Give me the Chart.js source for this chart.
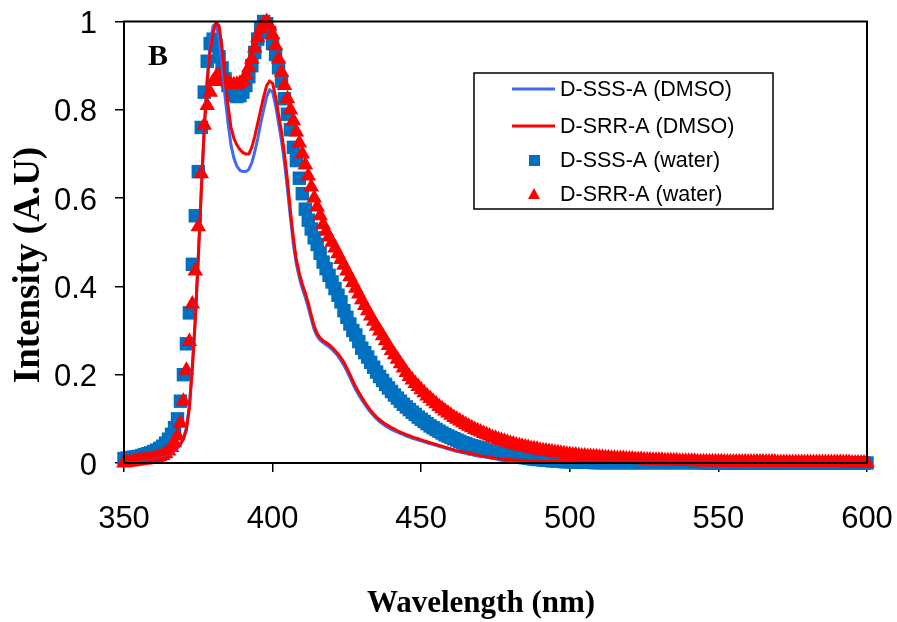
<!DOCTYPE html>
<html>
<head>
<meta charset="utf-8">
<script src="https://cdn.jsdelivr.net/npm/chart.js@4.4.1/dist/chart.umd.min.js"></script>
<style>
  html, body { margin: 0; padding: 0; background: #fff; }
  #wrap { width: 897px; height: 622px; }
</style>
</head>
<body>
<div id="wrap"><canvas id="spectra" width="897" height="622"></canvas></div>
<script>
// wavelength grid of the spectra, 1 nm steps from 350 to 600 nm
const startNm = 350;
const endNm = 600;

const xTickLabels = ['350', '400', '450', '500', '550', '600'];
const yTickLabels = ['0', '0.2', '0.4', '0.6', '0.8', '1'];

const seriesNames = ['D-SSS-A (DMSO)', 'D-SRR-A (DMSO)', 'D-SSS-A (water)', 'D-SRR-A (water)'];

// D-SSS-A in DMSO (blue line)
const sssDmso = [
  0.005, 0.005, 0.006, 0.006, 0.007, 0.007, 0.008, 0.009, 0.010, 0.011,
  0.012, 0.013, 0.015, 0.017, 0.019, 0.021, 0.024, 0.028, 0.034, 0.042,
  0.055, 0.080, 0.130, 0.220, 0.330, 0.470, 0.620, 0.760, 0.870, 0.950,
  0.990, 0.995, 0.960, 0.900, 0.830, 0.770, 0.720, 0.690, 0.672, 0.663,
  0.660, 0.660, 0.665, 0.680, 0.705, 0.735, 0.770, 0.800, 0.830, 0.845,
  0.840, 0.810, 0.770, 0.730, 0.680, 0.620, 0.555, 0.495, 0.450, 0.420,
  0.395, 0.375, 0.352, 0.326, 0.302, 0.287, 0.278, 0.273, 0.268, 0.263,
  0.257, 0.250, 0.242, 0.232, 0.221, 0.208, 0.194, 0.179, 0.166, 0.154,
  0.143, 0.133, 0.123, 0.115, 0.107, 0.100, 0.094, 0.089, 0.084, 0.080,
  0.076, 0.073, 0.070, 0.067, 0.064, 0.061, 0.059, 0.056, 0.054, 0.052,
  0.050, 0.048, 0.046, 0.044, 0.042, 0.040, 0.038, 0.036, 0.034, 0.032,
  0.030, 0.028, 0.026, 0.025, 0.023, 0.022, 0.020, 0.019, 0.017, 0.016,
  0.015, 0.014, 0.013, 0.012, 0.011, 0.010, 0.009, 0.008, 0.008, 0.007,
  0.007, 0.006, 0.006, 0.006, 0.005, 0.005, 0.005, 0.005, 0.004, 0.004,
  0.004, 0.004, 0.004, 0.003, 0.003, 0.003, 0.003, 0.003, 0.003, 0.003,
  0.003, 0.003, 0.003, 0.003, 0.003, 0.002, 0.002, 0.002, 0.002, 0.002,
  0.002, 0.002, 0.002, 0.002, 0.002, 0.002, 0.002, 0.002, 0.002, 0.002,
  0.002, 0.002, 0.002, 0.002, 0.002, 0.002, 0.002, 0.002, 0.002, 0.002,
  0.002, 0.002, 0.002, 0.002, 0.002, 0.002, 0.002, 0.002, 0.002, 0.002,
  0.002, 0.002, 0.002, 0.002, 0.002, 0.002, 0.002, 0.002, 0.002, 0.002,
  0.001, 0.001, 0.001, 0.001, 0.001, 0.001, 0.001, 0.001, 0.001, 0.001,
  0.001, 0.001, 0.001, 0.001, 0.001, 0.001, 0.001, 0.001, 0.001, 0.001,
  0.001, 0.001, 0.001, 0.001, 0.001, 0.001, 0.001, 0.001, 0.001, 0.001,
  0.001, 0.001, 0.001, 0.001, 0.001, 0.001, 0.001, 0.001, 0.001, 0.001,
  0.001, 0.001, 0.001, 0.001, 0.001, 0.001, 0.001, 0.001, 0.001, 0.001,
  0.001
];

// D-SRR-A in DMSO (red line)
const srrDmso = [
  0.006, 0.006, 0.007, 0.007, 0.008, 0.008, 0.009, 0.010, 0.011, 0.012,
  0.013, 0.014, 0.016, 0.018, 0.020, 0.022, 0.025, 0.029, 0.035, 0.043,
  0.055, 0.075, 0.125, 0.215, 0.325, 0.465, 0.615, 0.755, 0.865, 0.935,
  0.975, 0.998, 0.990, 0.940, 0.870, 0.810, 0.760, 0.735, 0.720, 0.710,
  0.703, 0.700, 0.700, 0.715, 0.740, 0.770, 0.800, 0.830, 0.855, 0.865,
  0.860, 0.830, 0.790, 0.750, 0.700, 0.640, 0.570, 0.510, 0.460, 0.430,
  0.405, 0.385, 0.362, 0.335, 0.310, 0.293, 0.283, 0.277, 0.273, 0.268,
  0.262, 0.255, 0.247, 0.238, 0.228, 0.215, 0.201, 0.186, 0.172, 0.160,
  0.149, 0.138, 0.128, 0.119, 0.111, 0.104, 0.098, 0.093, 0.088, 0.084,
  0.080, 0.077, 0.073, 0.070, 0.067, 0.064, 0.062, 0.059, 0.057, 0.055,
  0.052, 0.050, 0.048, 0.046, 0.044, 0.042, 0.040, 0.038, 0.036, 0.034,
  0.032, 0.030, 0.028, 0.027, 0.025, 0.024, 0.022, 0.021, 0.019, 0.018,
  0.016, 0.015, 0.014, 0.013, 0.012, 0.011, 0.010, 0.009, 0.009, 0.008,
  0.008, 0.007, 0.007, 0.006, 0.006, 0.006, 0.005, 0.005, 0.005, 0.005,
  0.005, 0.004, 0.004, 0.004, 0.004, 0.004, 0.004, 0.004, 0.004, 0.004,
  0.004, 0.004, 0.004, 0.003, 0.003, 0.003, 0.003, 0.003, 0.003, 0.003,
  0.003, 0.003, 0.003, 0.003, 0.003, 0.003, 0.003, 0.003, 0.003, 0.003,
  0.003, 0.003, 0.003, 0.003, 0.003, 0.003, 0.003, 0.003, 0.003, 0.003,
  0.003, 0.003, 0.003, 0.003, 0.003, 0.003, 0.003, 0.003, 0.003, 0.003,
  0.003, 0.003, 0.003, 0.003, 0.003, 0.003, 0.003, 0.003, 0.003, 0.003,
  0.002, 0.002, 0.002, 0.002, 0.002, 0.002, 0.002, 0.002, 0.002, 0.002,
  0.002, 0.002, 0.002, 0.002, 0.002, 0.002, 0.002, 0.002, 0.002, 0.002,
  0.002, 0.002, 0.002, 0.002, 0.002, 0.002, 0.002, 0.002, 0.002, 0.002,
  0.002, 0.002, 0.002, 0.002, 0.002, 0.002, 0.002, 0.002, 0.002, 0.002,
  0.002, 0.002, 0.002, 0.002, 0.002, 0.002, 0.002, 0.002, 0.002, 0.002,
  0.002
];

// D-SSS-A in water (blue squares)
const sssWater = [
  0.010, 0.011, 0.012, 0.013, 0.014, 0.015, 0.017, 0.019, 0.021, 0.023,
  0.026, 0.029, 0.033, 0.038, 0.045, 0.054, 0.065, 0.080, 0.100, 0.140,
  0.200, 0.270, 0.340, 0.450, 0.560, 0.660, 0.760, 0.840, 0.910, 0.950,
  0.960, 0.945, 0.920, 0.895, 0.870, 0.855, 0.840, 0.833, 0.830, 0.832,
  0.840, 0.855, 0.875, 0.900, 0.930, 0.960, 0.985, 1.000, 0.995, 0.975,
  0.950, 0.925, 0.895, 0.865, 0.825, 0.790, 0.755, 0.715, 0.685, 0.645,
  0.610, 0.575, 0.550, 0.530, 0.510, 0.495, 0.475, 0.455, 0.440, 0.425,
  0.410, 0.395, 0.380, 0.365, 0.345, 0.330, 0.315, 0.300, 0.290, 0.275,
  0.260, 0.250, 0.240, 0.228, 0.217, 0.206, 0.196, 0.187, 0.178, 0.170,
  0.162, 0.154, 0.147, 0.140, 0.133, 0.127, 0.121, 0.115, 0.110, 0.104,
  0.099, 0.094, 0.089, 0.084, 0.080, 0.076, 0.072, 0.068, 0.064, 0.061,
  0.058, 0.055, 0.052, 0.049, 0.046, 0.044, 0.041, 0.039, 0.037, 0.035,
  0.033, 0.031, 0.029, 0.027, 0.025, 0.024, 0.022, 0.021, 0.019, 0.018,
  0.017, 0.016, 0.015, 0.014, 0.013, 0.012, 0.011, 0.010, 0.009, 0.008,
  0.008, 0.007, 0.006, 0.006, 0.005, 0.005, 0.004, 0.004, 0.003, 0.003,
  0.003, 0.003, 0.002, 0.002, 0.002, 0.002, 0.002, 0.002, 0.001, 0.001,
  0.001, 0.001, 0.001, 0.001, 0.001, 0.001, 0.001, 0.001, 0.001, 0.001,
  0.001, 0.001, 0.001, 0.001, 0.001, 0.001, 0.001, 0.001, 0.001, 0.001,
  0.001, 0.001, 0.001, 0.001, 0.001, 0.001, 0.001, 0.001, 0.001, 0.001,
  0.001, 0.001, 0.001, 0.001, 0.001, 0.000, 0.000, 0.000, 0.000, 0.000,
  0.000, 0.000, 0.000, 0.000, 0.000, 0.000, 0.000, 0.000, 0.000, 0.000,
  0.000, 0.000, 0.000, 0.000, 0.000, 0.000, 0.000, 0.000, 0.000, 0.000,
  0.000, 0.000, 0.000, 0.000, 0.000, 0.000, 0.000, 0.000, 0.000, 0.000,
  0.000, 0.000, 0.000, 0.000, 0.000, 0.000, 0.000, 0.000, 0.000, 0.000,
  0.000, 0.000, 0.000, 0.000, 0.000, 0.000, 0.000, 0.000, 0.000, 0.000,
  0.000
];

// D-SRR-A in water (red triangles)
const srrWater = [
  0.000, 0.001, 0.002, 0.003, 0.004, 0.005, 0.006, 0.007, 0.008, 0.009,
  0.010, 0.012, 0.014, 0.017, 0.021, 0.027, 0.035, 0.046, 0.062, 0.090,
  0.140, 0.210, 0.275, 0.360, 0.435, 0.535, 0.655, 0.765, 0.810, 0.840,
  0.864, 0.875, 0.877, 0.872, 0.866, 0.861, 0.858, 0.857, 0.858, 0.860,
  0.866, 0.878, 0.895, 0.915, 0.940, 0.963, 0.983, 0.996, 1.000, 0.990,
  0.970, 0.945, 0.915, 0.885, 0.855, 0.825, 0.800, 0.775, 0.750, 0.725,
  0.700, 0.675, 0.650, 0.625, 0.600, 0.580, 0.560, 0.540, 0.525, 0.512,
  0.500, 0.487, 0.474, 0.461, 0.448, 0.435, 0.422, 0.409, 0.396, 0.383,
  0.370, 0.357, 0.345, 0.333, 0.321, 0.310, 0.299, 0.288, 0.277, 0.266,
  0.255, 0.245, 0.235, 0.225, 0.215, 0.205, 0.196, 0.188, 0.180, 0.173,
  0.166, 0.159, 0.152, 0.146, 0.140, 0.134, 0.128, 0.123, 0.118, 0.113,
  0.108, 0.103, 0.099, 0.095, 0.091, 0.087, 0.083, 0.080, 0.076, 0.073,
  0.070, 0.067, 0.064, 0.061, 0.058, 0.056, 0.053, 0.051, 0.049, 0.047,
  0.045, 0.043, 0.041, 0.039, 0.038, 0.036, 0.035, 0.033, 0.032, 0.031,
  0.029, 0.028, 0.027, 0.026, 0.025, 0.024, 0.023, 0.022, 0.021, 0.020,
  0.019, 0.018, 0.018, 0.017, 0.016, 0.016, 0.015, 0.015, 0.014, 0.014,
  0.013, 0.013, 0.012, 0.012, 0.011, 0.011, 0.010, 0.010, 0.010, 0.009,
  0.009, 0.009, 0.008, 0.008, 0.008, 0.007, 0.007, 0.007, 0.006, 0.006,
  0.006, 0.006, 0.005, 0.005, 0.005, 0.005, 0.005, 0.004, 0.004, 0.004,
  0.004, 0.004, 0.004, 0.003, 0.003, 0.003, 0.003, 0.003, 0.003, 0.003,
  0.003, 0.003, 0.002, 0.002, 0.002, 0.002, 0.002, 0.002, 0.002, 0.002,
  0.002, 0.002, 0.002, 0.002, 0.002, 0.002, 0.002, 0.002, 0.002, 0.002,
  0.001, 0.001, 0.001, 0.001, 0.001, 0.001, 0.001, 0.001, 0.001, 0.001,
  0.001, 0.001, 0.001, 0.001, 0.001, 0.001, 0.001, 0.001, 0.001, 0.001,
  0.001, 0.001, 0.001, 0.001, 0.001, 0.000, 0.000, 0.000, 0.000, 0.000,
  0.000
];

const blueLine = '#3d6bf5';
const redColor = '#ff0000';
const blueMarker = '#0070c0';
const serifBold = 'bold {size}px "Liberation Serif", "Times New Roman", serif';

function toPoints(values) {
  return values.map((v, i) => ({ x: startNm + i, y: v }));
}

// black box around the plot area, panel letter and the two axis titles
const framePlugin = {
  id: 'frame',
  afterDatasetsDraw(chart) {
    const { ctx, chartArea } = chart;
    ctx.save();
    ctx.strokeStyle = '#000';
    ctx.lineWidth = 2;
    ctx.strokeRect(chartArea.left, chartArea.top, chartArea.right - chartArea.left, chartArea.bottom - chartArea.top);
    ctx.fillStyle = '#000';
    ctx.textAlign = 'center';
    ctx.textBaseline = 'middle';
    ctx.font = serifBold.replace('{size}', 30);
    ctx.fillText('B', 158, 57);

    ctx.font = serifBold.replace('{size}', 31);
    ctx.fillText('Wavelength (nm)', 481, 604);

    ctx.translate(29, 265);
    ctx.rotate(-Math.PI / 2);
    ctx.font = serifBold.replace('{size}', 37);
    ctx.fillText('Intensity (A.U)', 0, 0);
    ctx.restore();
  }
};

// legend box drawn inside the plot, like the original
const boxLegend = {
  id: 'boxLegend',
  afterDraw(chart) {
    const { ctx } = chart;
    const rows = [89, 126, 160, 194];
    ctx.save();
    ctx.fillStyle = '#fff';
    ctx.fillRect(474, 73, 299, 136);
    ctx.strokeStyle = '#000';
    ctx.lineWidth = 1.5;
    ctx.strokeRect(474, 73, 299, 136);

    ctx.lineWidth = 3;
    ctx.strokeStyle = blueLine;
    ctx.beginPath(); ctx.moveTo(512, rows[0]); ctx.lineTo(555, rows[0]); ctx.stroke();
    ctx.strokeStyle = redColor;
    ctx.beginPath(); ctx.moveTo(512, rows[1]); ctx.lineTo(555, rows[1]); ctx.stroke();

    ctx.fillStyle = blueMarker;
    ctx.fillRect(529, rows[2] - 5, 11, 11);
    ctx.fillStyle = redColor;
    ctx.beginPath();
    ctx.moveTo(534, rows[3] - 6);
    ctx.lineTo(540, rows[3] + 5);
    ctx.lineTo(528, rows[3] + 5);
    ctx.closePath();
    ctx.fill();

    ctx.fillStyle = '#000';
    ctx.font = '21.5px "Liberation Sans", Arial, sans-serif';
    ctx.textAlign = 'left';
    ctx.textBaseline = 'middle';
    seriesNames.forEach((name, i) => ctx.fillText(name, 560, rows[i] + 1));
    ctx.restore();
  }
};

const ctx = document.getElementById('spectra');

new Chart(ctx, {
  type: 'scatter',
  data: {
    datasets: [
      {
        label: seriesNames[1],
        data: toPoints(srrDmso),
        showLine: true,
        borderColor: redColor,
        borderWidth: 3,
        pointRadius: 0,
        order: 0
      },
      {
        label: seriesNames[0],
        data: toPoints(sssDmso),
        showLine: true,
        borderColor: blueLine,
        borderWidth: 3,
        pointRadius: 0,
        order: 1
      },
      {
        label: seriesNames[3],
        data: toPoints(srrWater),
        showLine: false,
        pointStyle: 'triangle',
        pointRadius: 9,
        backgroundColor: redColor,
        borderColor: redColor,
        pointBorderWidth: 0,
        clip: false,
        order: 2
      },
      {
        label: seriesNames[2],
        data: toPoints(sssWater),
        showLine: false,
        pointStyle: 'rect',
        pointRadius: 9.5,
        backgroundColor: blueMarker,
        borderColor: blueMarker,
        pointBorderWidth: 0,
        clip: false,
        order: 3
      }
    ]
  },
  options: {
    responsive: false,
    animation: false,
    layout: { autoPadding: false, padding: { top: 21.5, right: 30, left: 0, bottom: 0 } },
    plugins: {
      legend: { display: false },
      tooltip: { enabled: false }
    },
    scales: {
      x: {
        type: 'linear',
        min: startNm,
        max: endNm,
        afterFit: scale => {
          scale.height = 159;
          scale.paddingLeft = 0;
          scale.paddingRight = 0;
        },
        ticks: {
          stepSize: 50,
          padding: 29,
          color: '#000',
          font: { family: '"Liberation Sans", Arial, sans-serif', size: 31 },
          callback: (value, i) => xTickLabels[i]
        },
        grid: { drawOnChartArea: false, tickLength: 9, color: '#000', lineWidth: 1.5 },
        border: { color: '#000', width: 2 }
      },
      y: {
        min: 0,
        max: 1,
        afterFit: scale => {
          scale.width = 124;
          scale.paddingTop = 0;
          scale.paddingBottom = 0;
        },
        ticks: {
          stepSize: 0.2,
          padding: 18,
          labelOffset: 3,
          color: '#000',
          font: { family: '"Liberation Sans", Arial, sans-serif', size: 31 },
          callback: (value, i) => yTickLabels[i]
        },
        grid: { drawOnChartArea: false, tickLength: 9, color: '#000', lineWidth: 1.5 },
        border: { color: '#000', width: 2 }
      }
    }
  },
  plugins: [framePlugin, boxLegend]
});
</script>
</body>
</html>
